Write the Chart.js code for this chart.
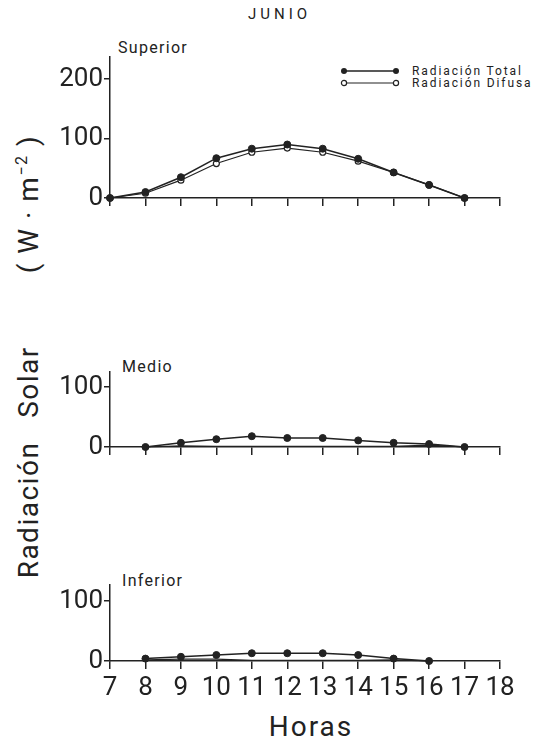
<!DOCTYPE html>
<html>
<head>
<meta charset="utf-8">
<script src="https://cdn.jsdelivr.net/npm/chart.js@4.4.1/dist/chart.umd.min.js"></script>
<style>
  body { margin: 0; background: #fff; font-family: Roboto, "DejaVu Sans", sans-serif; color: #222; }
  #page { position: relative; width: 536px; height: 740px; overflow: hidden; }
  .panel { position: absolute; left: 0; width: 536px; }
  .txt { position: absolute; white-space: nowrap; }
  .rot { position: absolute; white-space: nowrap; transform: translate(-50%, -50%) rotate(-90deg); font-size: 28px; letter-spacing: 1.5px; }
  .lab { font-size: 16px; letter-spacing: 1.3px; }
  .leg { position: absolute; left: 340px; width: 260px; white-space: nowrap; font-size: 12px; letter-spacing: 1.9px; display: flex; align-items: center; }
  .leg svg { margin-right: 12px; flex: none; }
</style>
</head>
<body>
<div id="page">
  <div class="txt" style="left:248px; top:5px; font-size:15px; letter-spacing:4px;">JUNIO</div>
  <div class="txt lab" style="left:118px; top:38px;">Superior</div>
  <div class="txt lab" style="left:122px; top:357px;">Medio</div>
  <div class="txt lab" style="left:122px; top:571px;">Inferior</div>

  <div class="leg" style="top:64px;">
    <svg width="60" height="10"><line x1="4" y1="5" x2="56" y2="5" stroke="#222" stroke-width="1.5"/><circle cx="4" cy="5" r="3" fill="#222"/><circle cx="56" cy="5" r="3" fill="#222"/></svg>
    <span>Radiación Total</span>
  </div>
  <div class="leg" style="top:76px;">
    <svg width="60" height="10"><line x1="4" y1="5" x2="56" y2="5" stroke="#222" stroke-width="1.2"/><circle cx="4" cy="5" r="2.6" fill="#fff" stroke="#222" stroke-width="1.2"/><circle cx="56" cy="5" r="2.6" fill="#fff" stroke="#222" stroke-width="1.2"/></svg>
    <span>Radiación Difusa</span>
  </div>

  <div class="rot" style="left:28px; top:510px;">Radiación</div>
  <div class="rot" style="left:28px; top:382px;">Solar</div>
  <div class="rot" style="left:28px; top:204px;">( W · m<sup style="font-size:16px;">−2</sup> )</div>

  <div class="txt" style="left:311px; top:726px; transform:translate(-50%,-50%); font-size:28px; letter-spacing:2px;">Horas</div>

  <div class="panel" style="top:40px; height:180px;"><canvas id="superior"></canvas></div>
  <div class="panel" style="top:350px; height:120px;"><canvas id="medio"></canvas></div>
  <div class="panel" style="top:560px; height:140px;"><canvas id="inferior"></canvas></div>
</div>

<script>
const horas = [7, 8, 9, 10, 11, 12, 13, 14, 15, 16, 17];
const xTicks = [7, 8, 9, 10, 11, 12, 13, 14, 15, 16, 17, 18];

const superiorTotal   = [0, 10, 35, 67, 83, 90, 83, 66, 43, 22, 0];
const superiorDifusa  = [0, 8, 30, 58, 77, 84, 77, 62, 43, 22, 0];
const medioTotal      = [null, 0, 7, 13, 18, 15, 15, 11, 7, 5, 0];
const medioDifusa     = [null, 0, 2, 1, 1, 1, 1, 1, 1, 3, 0];
const inferiorTotal   = [null, 4, 7, 10, 13, 13, 13, 10, 4, 0, null];
const inferiorDifusa  = [null, 2, 3, 3, 1, 1, 1, 1, 2, 0, null];

const ink = "#222";

function puntos(vals) {
  return horas.map((h, i) => ({ x: h, y: vals[i] })).filter(p => p.y !== null);
}

// en los paneles bajos los circulos de la difusa quedan tapados por el eje
function panel(id, total, difusa, yMax, yTicks, padTop, xHeight, showX, rDifusa) {
  new Chart(document.getElementById(id), {
    type: "line",
    data: {
      datasets: [
        {
          data: puntos(total),
          borderColor: ink, backgroundColor: ink,
          borderWidth: 1.5, pointRadius: 3.5, pointBorderWidth: 1,
          pointBackgroundColor: ink, tension: 0
        },
        {
          data: puntos(difusa),
          borderColor: ink, backgroundColor: "#fff",
          borderWidth: 1.2, pointRadius: rDifusa, pointBorderWidth: 1.2,
          pointBackgroundColor: "#fff", tension: 0
        }
      ]
    },
    options: {
      responsive: true,
      maintainAspectRatio: false,
      animation: false,
      clip: false,
      layout: { padding: { top: padTop, right: 36, left: 0, bottom: 0 } },
      plugins: { legend: { display: false }, tooltip: { enabled: false } },
      scales: {
        x: {
          type: "linear", min: 7, max: 18,
          afterBuildTicks: s => { s.ticks = xTicks.map(v => ({ value: v })); },
          afterFit: s => { s.height = xHeight; },
          border: { color: ink, width: 1.5 },
          grid: { drawOnChartArea: false, color: ink, lineWidth: 1.5, tickLength: 8 },
          ticks: {
            display: showX, padding: 4, color: ink,
            font: { family: "Roboto", size: 26 },
            maxRotation: 0, autoSkip: false
          }
        },
        y: {
          min: 0, max: yMax,
          afterBuildTicks: s => { s.ticks = yTicks.map(v => ({ value: v })); },
          afterFit: s => { s.width = 110; },
          border: { color: ink, width: 1.5 },
          grid: { drawOnChartArea: false, color: ink, lineWidth: 1.5, tickLength: 6 },
          ticks: { padding: 1, color: ink, font: { family: "Roboto", size: 26 } }
        }
      }
    }
  });
}

panel("superior", superiorTotal, superiorDifusa, 238, [0, 100, 200], 15, 22, false, 3);
panel("medio", medioTotal, medioDifusa, 125, [0, 100], 22, 23, false, 0);
panel("inferior", inferiorTotal, inferiorDifusa, 127, [0, 100], 25, 39, true, 0);
</script>
</body>
</html>
